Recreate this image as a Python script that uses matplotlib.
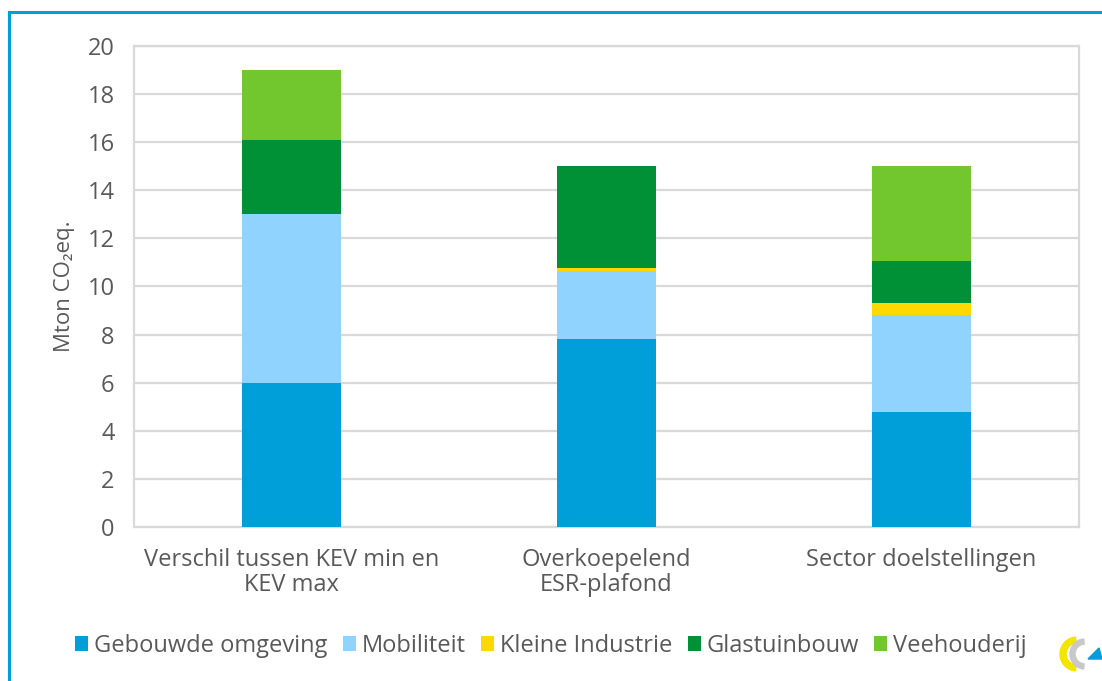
import numpy as np
import matplotlib.pyplot as plt
from matplotlib.patches import Wedge, Polygon

plt.rcParams['font.family'] = ['Open Sans', 'DejaVu Sans']

categories = ['Verschil tussen KEV min en\nKEV max', 'Overkoepelend\nESR-plafond', 'Sector doelstellingen']
series = ['Gebouwde omgeving', 'Mobiliteit', 'Kleine Industrie', 'Glastuinbouw', 'Veehouderij']
gebouwde = [6.0, 7.8, 4.8]
mobiliteit = [7.0, 2.85, 4.0]
kleine = [0.0, 0.1, 0.5]
glas = [3.1, 4.25, 1.75]
vee = [2.9, 0.0, 3.95]
colors = ['#009FDA', '#8FD3FE', '#FFD800', '#009035', '#72C72F']
yticks = list(range(0, 21, 2))

txt = '#595959'
grid = '#D9D9D9'

fig = plt.figure(figsize=(11.02, 6.81), dpi=100)
ax = fig.add_axes([0.1216, 0.2261, 0.8574, 0.7064])

x = np.arange(len(categories))
bottom = np.zeros(len(categories))
for name, vals, c in zip(series, [gebouwde, mobiliteit, kleine, glas, vee], colors):
    ax.bar(x, vals, width=0.315, bottom=bottom, color=c, label=name, zorder=3)
    bottom += np.array(vals)

ax.set_xlim(-0.5, 2.5)
ax.set_ylim(0, 20)
ax.set_yticks(yticks)
ax.set_xticks(x)
ax.set_xticklabels(categories, fontsize=17, color=txt, linespacing=1.05)
ax.tick_params(axis='y', labelsize=17, colors=txt, length=0, pad=14)
ax.tick_params(axis='x', length=0, pad=15, colors=txt)
ax.yaxis.grid(True, color=grid, linewidth=1.6, zorder=0)
for s in ax.spines.values():
    s.set_color(grid)
    s.set_linewidth(1.6)
ax.set_ylabel('Mton CO\u2082eq.', fontsize=16, color=txt, labelpad=9)

fig.legend(loc='center', bbox_to_anchor=(0.5, 0.051), ncol=5, frameon=False,
           fontsize=17, handlelength=0.55, handleheight=0.6, handletextpad=0.25,
           columnspacing=0.65, labelcolor=txt)

# outer frame (blue)
fig.add_artist(plt.Line2D([9 / 1102, 1.0], [1 - 12 / 681, 1 - 12 / 681], transform=fig.transFigure,
                          color='#009FDA', linewidth=2.2))
fig.add_artist(plt.Line2D([9 / 1102, 9 / 1102], [0.0, 1 - 12 / 681], transform=fig.transFigure,
                          color='#009FDA', linewidth=2.2))

# small logo
lax = fig.add_axes([1055 / 1102, 0.0, 47 / 1102, 60 / 681])
lax.set_xlim(0, 47)
lax.set_ylim(0, 60)
lax.axis('off')
lax.add_patch(Wedge((22, 27), 17, 95, 265, width=6, color='#F2E500'))
lax.add_patch(Wedge((30, 27), 15, 95, 265, width=5, color='#C8C8C8'))
lax.add_patch(Polygon([[33, 22], [47, 22], [44, 33]], color='#009FDA'))

fig.savefig('out.png', dpi=100)
